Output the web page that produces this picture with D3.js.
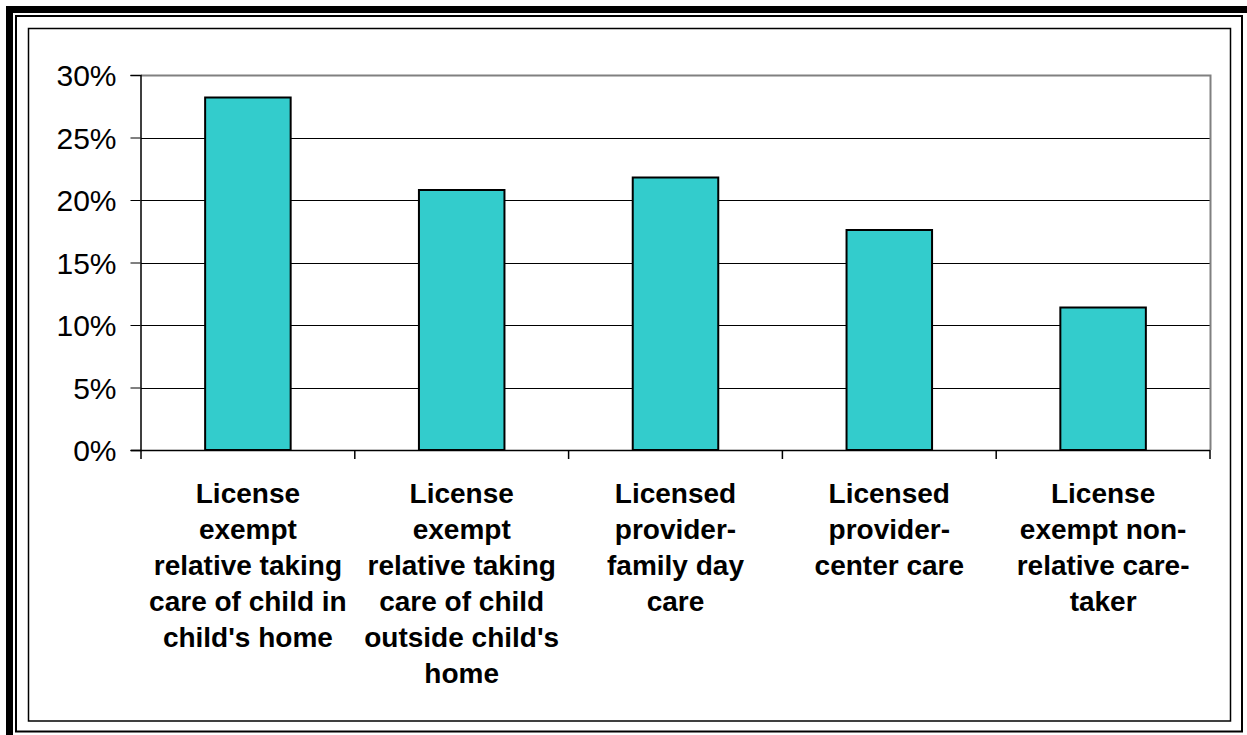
<!DOCTYPE html>
<html lang="en">
<head>
	<meta charset="UTF-8">
	<title>Child care provider types</title>
	<script src="https://cdn.jsdelivr.net/npm/d3@7"></script>
	<style>
		body{
			margin:0;
			background:white;
		}
		svg{
			display:block;
			font-family:"Liberation Sans", Arial, sans-serif;
		}
		.grid line{
			stroke:#000;
			stroke-width:1;
		}
		.bar{
			fill:#33cccc;
			stroke:#000;
			stroke-width:2;
		}
		.ylab{
			font-size:30px;
			fill:#000;
		}
		.xlab{
			font-size:28px;
			font-weight:bold;
			fill:#000;
		}
	</style>
</head>
<body>
	<svg width="1247" height="735"></svg>
	<script>
		// data
		var categories = [
			["License", "exempt", "relative taking", "care of child in", "child's home"],
			["License", "exempt", "relative taking", "care of child", "outside child's", "home"],
			["Licensed", "provider-", "family day", "care"],
			["Licensed", "provider-", "center care"],
			["License", "exempt non-", "relative care-", "taker"]
		];
		var values = [28.2, 20.8, 21.8, 17.6, 11.4];
		var yTicks = [0, 5, 10, 15, 20, 25, 30];

		var svg = d3.select("svg");

		// frame
		svg.append("rect")
			.attr("x",9.5).attr("y",9.5)
			.attr("width",1247).attr("height",735)
			.attr("fill","none").attr("stroke","#000").attr("stroke-width",7);
		svg.append("rect")
			.attr("x",16).attr("y",16)
			.attr("width",1226).attr("height",715.5)
			.attr("fill","none").attr("stroke","#000").attr("stroke-width",2);
		svg.append("rect")
			.attr("x",28.5).attr("y",28.5)
			.attr("width",1202).attr("height",692.5)
			.attr("fill","none").attr("stroke","#000").attr("stroke-width",1.5);

		var pLeft = 141, pRight = 1210, pTop = 75, pBottom = 450;

		var x = d3.scaleBand()
			.domain(d3.range(values.length))
			.range([pLeft, pRight])
			.paddingInner(0.6)
			.paddingOuter(0.3);

		var y = d3.scaleLinear()
			.domain([0, 30])
			.range([pBottom, pTop]);

		// gridlines
		svg.append("g").attr("class","grid")
			.selectAll("line")
			.data(yTicks.filter(function(d){ return d > 0 && d < 30; }))
			.enter().append("line")
			.attr("x1",pLeft).attr("x2",pRight)
			.attr("y1",function(d){ return Math.round(y(d))+0.5; })
			.attr("y2",function(d){ return Math.round(y(d))+0.5; });

		// plot border top / right
		svg.append("path")
			.attr("d","M"+pLeft+","+(pTop+0.5)+"H"+(pRight+0.5)+"V"+pBottom)
			.attr("fill","none").attr("stroke","#808080").attr("stroke-width",2);

		// bars
		svg.append("g")
			.selectAll("rect")
			.data(values)
			.enter().append("rect")
			.attr("class","bar")
			.attr("x",function(d,i){ return x(i); })
			.attr("width",x.bandwidth())
			.attr("y",function(d){ return y(d); })
			.attr("height",function(d){ return pBottom - y(d); });

		// y axis
		var yAxis = d3.axisLeft(y)
			.tickValues(yTicks)
			.tickSize(10)
			.tickPadding(14)
			.tickFormat(function(d){ return d + "%"; });
		var gy = svg.append("g")
			.attr("transform","translate("+(pLeft-0.5)+",0)")
			.call(yAxis);
		gy.attr("font-size",null).attr("font-family",null);
		gy.select(".domain").attr("stroke","#000").attr("stroke-width",1.5);
		gy.selectAll(".tick line").attr("stroke","#000");
		gy.selectAll(".tick text")
			.attr("class","ylab")
			.attr("dy","0.36em");

		// x axis line and ticks between categories
		var step = (pRight - pLeft) / values.length;
		svg.append("line")
			.attr("x1",pLeft-10).attr("x2",pRight)
			.attr("y1",pBottom+0.5).attr("y2",pBottom+0.5)
			.attr("stroke","#000").attr("stroke-width",1.5);
		svg.append("g")
			.selectAll("line")
			.data(d3.range(values.length+1))
			.enter().append("line")
			.attr("x1",function(d){ return pLeft + d*step; })
			.attr("x2",function(d){ return pLeft + d*step; })
			.attr("y1",pBottom).attr("y2",pBottom+9)
			.attr("stroke","#000").attr("stroke-width",1.5);

		// category labels
		var labels = svg.append("g")
			.selectAll("text")
			.data(categories)
			.enter().append("text")
			.attr("class","xlab")
			.attr("text-anchor","middle")
			.attr("x",function(d,i){ return x(i) + x.bandwidth()/2; })
			.attr("y",503);
		labels.selectAll("tspan")
			.data(function(d){ return d; })
			.enter().append("tspan")
			.attr("x",function(){ return this.parentNode.getAttribute("x"); })
			.attr("dy",function(d,i){ return i === 0 ? 0 : 36; })
			.text(function(d){ return d; });
	</script>
</body>
</html>
